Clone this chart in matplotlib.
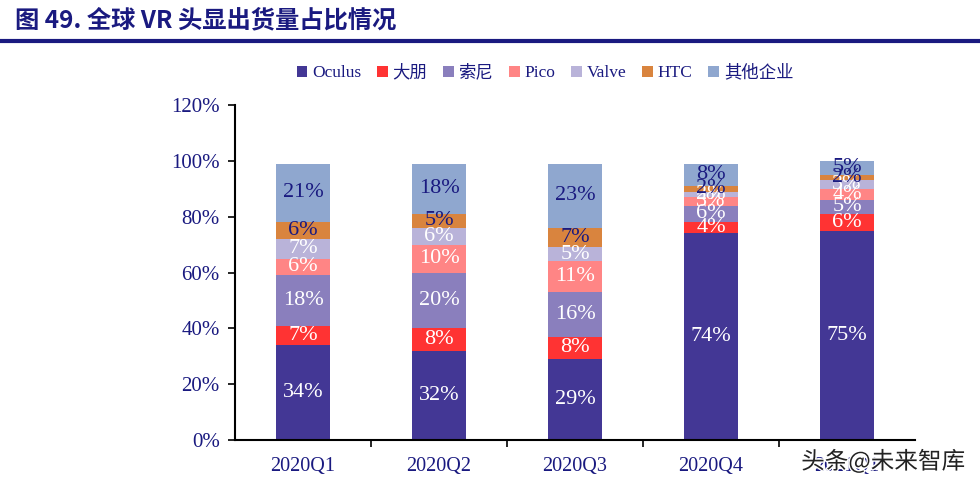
import matplotlib.pyplot as plt
import matplotlib.patheffects as pe
import numpy as np

quarters = ["2020Q1", "2020Q2", "2020Q3", "2020Q4", "2021Q1"]
brands = ["Oculus", "大朋", "索尼", "Pico", "Valve", "HTC", "其他企业"]
shares = {
    "Oculus": [34, 32, 29, 74, 75],
    "大朋": [7, 8, 8, 4, 6],
    "索尼": [18, 20, 16, 6, 5],
    "Pico": [6, 10, 11, 3, 4],
    "Valve": [7, 6, 5, 2, 3],
    "HTC": [6, 5, 7, 2, 2],
    "其他企业": [21, 18, 23, 8, 5],
}
colors = ["#433795", "#ff3333", "#8a7fbd", "#ff8585", "#b9b3d9", "#d9843e", "#8fa7cf"]
label_colors = ["white", "white", "white", "white", "white", "#1a1a80", "#1a1a80"]

NAVY = "#1a1a80"
FONTS = ["Liberation Serif", "Noto Sans CJK SC"]
plt.rcParams["font.family"] = FONTS

fig = plt.figure(figsize=(9.8, 4.83), dpi=100)
ax = fig.add_axes([0.2398, 0.089, 0.6939, 0.6936])

x = np.arange(len(quarters))
bottom = np.zeros(len(quarters))
for i, b in enumerate(brands):
    vals = np.array(shares[b], dtype=float)
    ax.bar(x, vals / 100, bottom=bottom / 100, width=0.4, color=colors[i], label=b)
    for xi, v, bt in zip(x, vals, bottom):
        ax.text(xi, (bt + v / 2) / 100, f"{int(v)}%", ha="center", va="center",
                fontsize=16, color=label_colors[i])
    bottom += vals

ax.set_xlim(-0.5, len(quarters) - 0.5)
ax.set_ylim(0, 1.2)
ax.set_yticks(np.arange(0, 1.21, 0.2))
ax.set_yticklabels([f"{int(round(t * 100))}%" for t in np.arange(0, 1.21, 0.2)],
                   fontsize=15, color=NAVY)
ax.set_xticks(x)
ax.set_xticklabels(quarters, fontsize=14.5, color=NAVY)
ax.set_xticks(np.arange(0.5, len(quarters) - 0.5, 1), minor=True)
ax.tick_params(axis="x", which="major", length=0, pad=12)
ax.tick_params(axis="x", which="minor", length=5, width=1.2, direction="out")
ax.tick_params(axis="y", length=5, width=1.2, direction="out", pad=6)
for s in ["top", "right"]:
    ax.spines[s].set_visible(False)
for s in ["left", "bottom"]:
    ax.spines[s].set_linewidth(1.5)

leg = ax.legend(loc="center", bbox_to_anchor=(0.456, 1.096), ncol=7, frameon=False,
                fontsize=12.5, handlelength=0.6, handleheight=0.6, handletextpad=0.3,
                columnspacing=0.9)
for t in leg.get_texts():
    t.set_color(NAVY)

fig.text(0.015, 0.957, "图 49. 全球 VR 头显出货量占比情况", fontsize=17.5, fontweight="bold",
         color=NAVY, va="center", family=["Noto Sans CJK SC"])
fig.add_artist(plt.Line2D([0, 1], [0.915, 0.915], color=NAVY, linewidth=3))

wm = fig.text(0.985, 0.045, "头条@未来智库", fontsize=17, color="#222222", ha="right",
              va="center", family=["Noto Sans CJK SC"])
wm.set_path_effects([pe.withStroke(linewidth=2, foreground="white")])

fig.savefig("out.png", dpi=100)
